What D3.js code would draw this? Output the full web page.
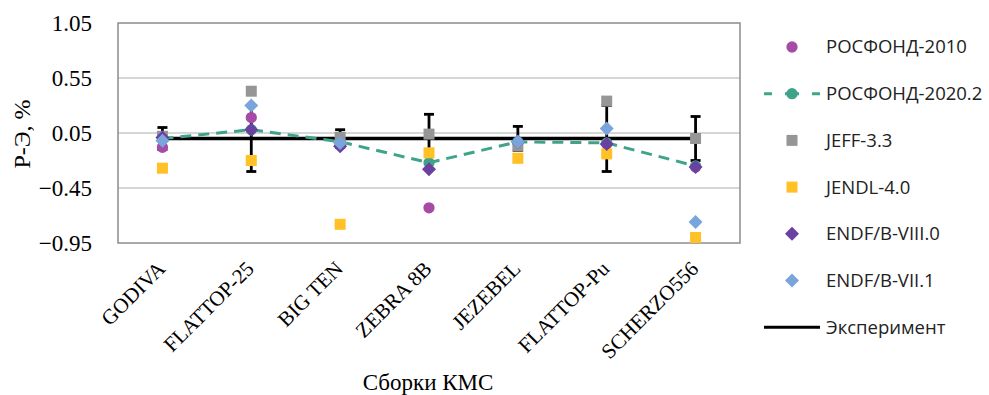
<!DOCTYPE html>
<html>
<head>
<meta charset="utf-8">
<script src="https://cdn.jsdelivr.net/npm/d3@7"></script>
<style>
  body { margin: 0; background: #fff; }
  svg { display: block; }
</style>
</head>
<body>
<script>
var width = 989,
    height = 395;

// data
var categories = ["GODIVA", "FLATTOP-25", "BIG TEN", "ZEBRA 8B", "JEZEBEL", "FLATTOP-Pu", "SCHERZO556"];
var rosfond2010 = [-0.08, 0.19, -0.06, -0.63, -0.04, -0.05, -0.26];
var rosfond2020 = [0.0, 0.08, -0.03, -0.22, -0.03, -0.04, -0.25];
var jeff33 = [0.02, 0.43, 0.01, 0.04, -0.07, 0.34, 0.0];
var jendl40 = [-0.27, -0.20, -0.78, -0.13, -0.18, -0.14, -0.90];
var endf80 = [0.01, 0.08, -0.07, -0.28, -0.03, -0.05, -0.26];
var endf71 = [-0.02, 0.30, -0.04, null, -0.03, 0.09, -0.76];
var experiment = [0, 0, 0, 0, 0, 0, 0];
var expError = [0.1, 0.3, 0.08, 0.22, 0.11, 0.3, 0.2];
var yTicks = [1.05, 0.55, 0.05, -0.45, -0.95];

var margin = {left: 118, top: 23, right: 740, bottom: 243};

var x = d3.scaleBand()
    .domain(categories)
    .range([margin.left, margin.right]);

var y = d3.scaleLinear()
    .domain([-0.95, 1.05])
    .range([margin.bottom, margin.top]);

var svg = d3.select("body").append("svg")
    .attr("width", width)
    .attr("height", height);

// grid lines
svg.append("g")
    .selectAll("line")
    .data(yTicks.slice(1, -1))
    .enter().append("line")
    .attr("x1", margin.left)
    .attr("x2", margin.right)
    .attr("y1", function(d) { return y(d); })
    .attr("y2", function(d) { return y(d); })
    .style("stroke", "#c9c9c9")
    .style("stroke-width", 1.3);

// frame
svg.append("rect")
    .attr("x", margin.left)
    .attr("y", margin.top)
    .attr("width", margin.right - margin.left)
    .attr("height", margin.bottom - margin.top)
    .style("fill", "none")
    .style("stroke", "#8c8c8c")
    .style("stroke-width", 1.5);

// y axis labels
var yAxis = d3.axisLeft(y).tickValues(yTicks).tickSize(0).tickPadding(26)
    .tickFormat(d3.format(".2f"));
var gy = svg.append("g")
    .attr("transform", "translate(" + margin.left + ",0)")
    .call(yAxis);
gy.select(".domain").remove();
gy.selectAll("text")
    .style("font-family", "'Liberation Serif', 'Times New Roman', serif")
    .style("font-size", "23px")
    .style("fill", "#000");

// x axis labels
var xAxis = d3.axisBottom(x).tickSize(0).tickPadding(0);
var gx = svg.append("g")
    .attr("transform", "translate(0," + margin.bottom + ")")
    .call(xAxis);
gx.select(".domain").remove();
gx.selectAll("text")
    .attr("text-anchor", "end")
    .attr("dy", 0)
    .attr("transform", "translate(4,27) rotate(-45)")
    .style("font-family", "'Liberation Serif', 'Times New Roman', serif")
    .style("font-size", "21px")
    .style("fill", "#000");

// axis titles
svg.append("text")
    .attr("transform", "translate(30,134) rotate(-90)")
    .attr("text-anchor", "middle")
    .style("font-family", "'Liberation Serif', 'Times New Roman', serif")
    .style("font-size", "24px")
    .text("Р-Э, %");

svg.append("text")
    .attr("x", 428)
    .attr("y", 390)
    .attr("text-anchor", "middle")
    .style("font-family", "'Liberation Serif', 'Times New Roman', serif")
    .style("font-size", "23px")
    .text("Сборки КМС");

var cx = function(i) { return x(categories[i]) + x.bandwidth() / 2; };

// experiment line with error bars
var line = d3.line()
    .defined(function(d) { return d != null; })
    .x(function(d, i) { return cx(i); })
    .y(function(d) { return y(d); });

svg.append("path")
    .datum(experiment)
    .attr("d", line)
    .style("fill", "none")
    .style("stroke", "#000")
    .style("stroke-width", 3.5);

var err = svg.append("g").selectAll("g")
    .data(experiment)
    .enter().append("g");
err.append("line")
    .attr("x1", function(d, i) { return cx(i); })
    .attr("x2", function(d, i) { return cx(i); })
    .attr("y1", function(d, i) { return y(d + expError[i]); })
    .attr("y2", function(d, i) { return y(d - expError[i]); });
err.append("line")
    .attr("x1", function(d, i) { return cx(i) - 5; })
    .attr("x2", function(d, i) { return cx(i) + 5; })
    .attr("y1", function(d, i) { return y(d + expError[i]); })
    .attr("y2", function(d, i) { return y(d + expError[i]); });
err.append("line")
    .attr("x1", function(d, i) { return cx(i) - 5; })
    .attr("x2", function(d, i) { return cx(i) + 5; })
    .attr("y1", function(d, i) { return y(d - expError[i]); })
    .attr("y2", function(d, i) { return y(d - expError[i]); });
err.selectAll("line")
    .style("stroke", "#000")
    .style("stroke-width", 2.8);

var series = [
    {name: "РОСФОНД-2010", values: rosfond2010, color: "#a64ca6", symbol: d3.symbolCircle, size: 100},
    {name: "РОСФОНД-2020.2", values: rosfond2020, color: "#3fa38a", symbol: d3.symbolCircle, size: 100, dashed: true},
    {name: "JEFF-3.3", values: jeff33, color: "#969696", symbol: d3.symbolSquare, size: 121},
    {name: "JENDL-4.0", values: jendl40, color: "#ffc125", symbol: d3.symbolSquare, size: 121},
    {name: "ENDF/B-VIII.0", values: endf80, color: "#6a40a0", symbol: d3.symbolDiamond2, size: 125},
    {name: "ENDF/B-VII.1", values: endf71, color: "#79a5dc", symbol: d3.symbolDiamond2, size: 125}
];

series.forEach(function(s) {
    if (s.dashed) {
        svg.append("path")
            .datum(s.values)
            .attr("d", line)
            .style("fill", "none")
            .style("stroke", s.color)
            .style("stroke-width", 3)
            .style("stroke-dasharray", "11,7");
    }
    svg.append("g").selectAll("path")
        .data(s.values.map(function(v, i) { return {v: v, i: i}; })
            .filter(function(d) { return d.v != null; }))
        .enter().append("path")
        .attr("d", d3.symbol().type(s.symbol).size(s.size))
        .attr("transform", function(d) {
            return "translate(" + cx(d.i) + "," + y(d.v) + ")";
        })
        .style("fill", s.color);
});

// legend
var legendFont = "'Open Sans', 'DejaVu Sans', sans-serif";
var legendRows = series.concat([{name: "Эксперимент", color: "#000", line: true}]);
var lg = svg.append("g").selectAll("g")
    .data(legendRows)
    .enter().append("g")
    .attr("transform", function(d, i) { return "translate(792," + (47 + i * 46.7) + ")"; });

lg.filter(function(d) { return d.dashed; })
    .append("path")
    .attr("d", "M-28,0H-20M-7,0H7M20,0H28")
    .style("stroke", function(d) { return d.color; })
    .style("stroke-width", 3);

lg.filter(function(d) { return d.line; })
    .append("line")
    .attr("x1", -28)
    .attr("x2", 28)
    .style("stroke", "#000")
    .style("stroke-width", 3);

lg.filter(function(d) { return !d.line; })
    .append("path")
    .attr("d", function(d) { return d3.symbol().type(d.symbol).size(d.size)(); })
    .style("fill", function(d) { return d.color; });

lg.append("text")
    .attr("x", 34)
    .attr("dy", "0.35em")
    .style("font-family", legendFont)
    .style("font-size", "18.5px")
    .style("fill", "#222")
    .text(function(d) { return d.name; });
</script>
</body>
</html>
